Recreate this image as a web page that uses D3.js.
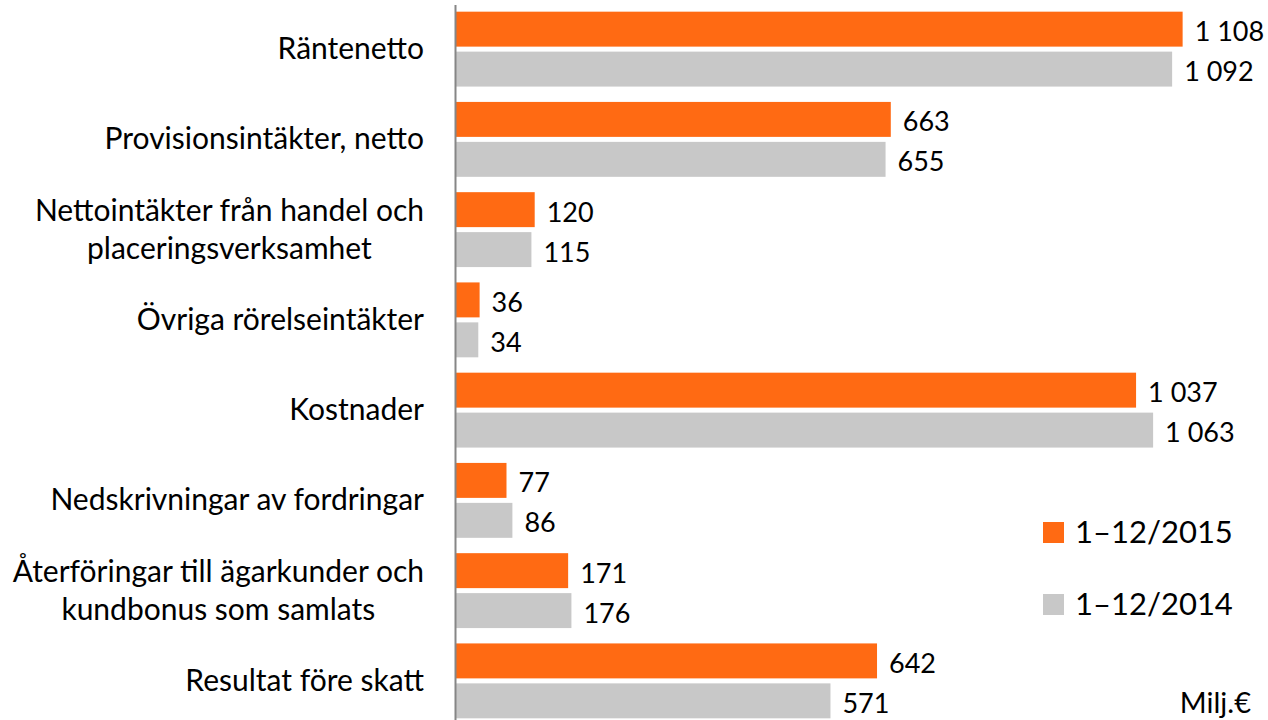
<!DOCTYPE html>
<html lang="sv">
<head>
  <meta charset="utf-8">
  <title>Intäkter och kostnader</title>
  <script src="https://d3js.org/d3.v7.min.js"></script>
  <style>
    body { margin: 0; background: #fff; }
    text { font-family: Lato, "Open Sans", sans-serif; fill: #000; }
  </style>
</head>
<body>
<script>
// data
var categories = [
  "Räntenetto",
  "Provisionsintäkter, netto",
  "Nettointäkter från handel och\nplaceringsverksamhet",
  "Övriga rörelseintäkter",
  "Kostnader",
  "Nedskrivningar av fordringar",
  "Återföringar till ägarkunder och\nkundbonus som samlats",
  "Resultat före skatt"
];
var seriesNames = ["1–12/2015", "1–12/2014"];
var values2015 = [1108, 663, 120, 36, 1037, 77, 171, 642];
var values2014 = [1092, 655, 115, 34, 1063, 86, 176, 571];
var unitLabel = "Milj.€";

var colors = { "1–12/2015": "#ff6a13", "1–12/2014": "#c8c8c8" };

var width = 1268, height = 720;

var svg = d3.select("body").append("svg")
    .attr("width", width)
    .attr("height", height);

var rows = categories.map(function(c, i) {
  return { cat: c, vals: [
    { s: seriesNames[0], v: values2015[i] },
    { s: seriesNames[1], v: values2014[i] }
  ]};
});

// scales
var x = d3.scaleLinear().domain([0, 1200]).range([456, 456 + 1200 * 0.6558]);
var y0 = d3.scaleBand().domain(categories).range([4, 726])
    .paddingInner(0.17).paddingOuter(0.085);
var y1 = d3.scaleBand().domain(seriesNames).range([0, y0.bandwidth()]).paddingInner(0.125);

var fmt = d3.formatLocale({ decimal: ",", thousands: " ", grouping: [3], currency: ["", "€"] }).format(",d");

// bars
var groups = svg.selectAll(".grp")
    .data(rows)
  .enter().append("g")
    .attr("class", "grp")
    .attr("transform", function(d) { return "translate(0," + y0(d.cat) + ")"; });

groups.selectAll("rect")
    .data(function(d) { return d.vals; })
  .enter().append("rect")
    .attr("x", x(0))
    .attr("y", function(d) { return y1(d.s); })
    .attr("width", function(d) { return x(d.v) - x(0); })
    .attr("height", y1.bandwidth())
    .attr("fill", function(d) { return colors[d.s]; });

groups.selectAll(".val")
    .data(function(d) { return d.vals; })
  .enter().append("text")
    .attr("class", "val")
    .attr("x", function(d) { return x(d.v) + 12; })
    .attr("y", function(d) { return y1(d.s) + y1.bandwidth() / 2 + 12; })
    .attr("font-size", "27px")
    .text(function(d) { return fmt(d.v); });

// category labels, wrapped lines centred, block right aligned
groups.each(function(d) {
  var g = d3.select(this);
  var lines = d.cat.split("\n");
  var lh = 38;
  var cy = y0.bandwidth() / 2;
  var t = g.append("text").attr("font-size", "30px").attr("text-anchor", "middle");
  lines.forEach(function(l, i) {
    t.append("tspan")
      .attr("y", cy + 10 + (i - (lines.length - 1) / 2) * lh)
      .text(l);
  });
  var w = d3.max(t.selectAll("tspan").nodes(), function(n) { return n.getComputedTextLength(); });
  t.selectAll("tspan").attr("x", 424 - w / 2);
});

// axis line
svg.append("line")
    .attr("x1", x(0) - 0.5).attr("x2", x(0) - 0.5)
    .attr("y1", 5).attr("y2", height)
    .attr("stroke", "#868686")
    .attr("stroke-width", 2);

// legend
var legend = svg.selectAll(".leg")
    .data(seriesNames)
  .enter().append("g")
    .attr("class", "leg")
    .attr("transform", function(d, i) { return "translate(1043," + (522 + i * 72) + ")"; });

legend.append("rect")
    .attr("width", 21).attr("height", 21)
    .attr("fill", function(d) { return colors[d]; });

legend.append("text")
    .attr("x", 32).attr("y", 21)
    .attr("font-size", "31px")
    .text(function(d) { return d; });

svg.append("text")
    .attr("x", 1251).attr("y", 713)
    .attr("text-anchor", "end")
    .attr("font-size", "29px")
    .text(unitLabel);
</script>
</body>
</html>
